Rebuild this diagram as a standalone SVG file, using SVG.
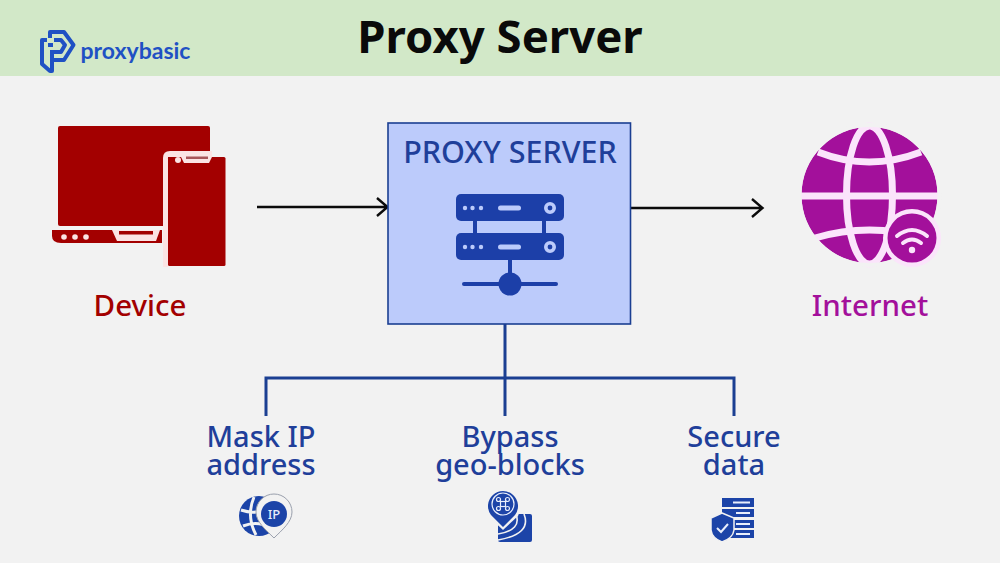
<svg xmlns="http://www.w3.org/2000/svg" width="1000" height="563" viewBox="0 0 1000 563">
<style>
text{font-family:"Noto Sans","Open Sans",sans-serif;text-anchor:middle;font-weight:500}
.lbl{font-size:29px;fill:#1f3f9a}
.red{fill:#a30000}
.mag{fill:#a3109b}
.srv{fill:#1c3fa8}
.lt{fill:#bccbfb}
.hl{fill:none;stroke:#fbe4fb;stroke-width:7}
.tree{fill:none;stroke:#1b3f92;stroke-width:3}
.blk{fill:none;stroke:#0b0b0b;stroke-width:2.4}
.ic{fill:#1c44a8}
</style>
<rect width="1000" height="563" fill="#f2f2f2"/>
<g id="header">
<rect width="1000" height="76" fill="#d2e8c8"/>
<text x="500" y="53" font-size="45.500" style="font-weight:700" fill="#0a0a0a">Proxy Server</text>
</g>
<g id="logo" fill="none" stroke="#1f51c4" stroke-width="4" stroke-linejoin="round">
<path d="M50 38V32H64L73.500 45L64 60H54"/>
<path d="M47 40H42V64L50 71H52V50"/>
<path d="M54 40H61L65 45L61 52H54"/>
<rect x="48" y="43" width="5" height="4" fill="#1f51c4" stroke="none"/>
<text x="135.500" y="59" font-size="23" fill="#1f51c4" stroke="none" style="font-family:Lato,'Noto Sans',sans-serif;font-weight:700">proxybasic</text>
</g>
<g id="connectors">
<path class="blk" d="M257 207H387M377 198L387.500 207L377 216"/>
<path class="blk" d="M631 208H762M752 199L762.500 208L752 217"/>
<path class="tree" d="M505 324V416M266 416V378H734V416"/>
</g>
<g id="device">
<rect x="58" y="126" width="152" height="100" rx="2" class="red"/>
<path d="M52 230H162V243H61Q52 243 52 236Z" class="red"/>
<path d="M112 230L117 241H156L160 230" fill="#fbe4e4"/>
<rect x="119" y="231" width="34" height="3.500" class="red"/>
<circle cx="64" cy="237" r="2.800" fill="#fbe4e4"/><circle cx="75" cy="237" r="2.800" fill="#fbe4e4"/><circle cx="86" cy="237" r="2.800" fill="#fbe4e4"/>
<path d="M163 267V158Q163 151 170 151H212V157H225.500V157H168V267Z" fill="#fbe4e4"/>
<rect x="168" y="157" width="57.500" height="109" rx="1.500" class="red"/>
<path d="M181 153H212V157L209 163H184L181 157Z" fill="#fbe4e4"/>
<circle cx="178" cy="160" r="3" fill="#fbe4e4"/>
<rect x="186" y="156.500" width="22" height="2.500" fill="#a8565a"/>
<text x="140" y="316" font-size="29.500" class="red">Device</text>
</g>
<g id="proxy">
<rect x="388" y="123" width="242.500" height="201" fill="#bccbfb" stroke="#1b3f92" stroke-width="1.600"/>
<text x="510" y="163" font-size="30.500" fill="#1f3f9a">PROXY SERVER</text>
<rect x="456" y="194" width="108" height="27" rx="5" class="srv"/>
<rect x="456" y="233" width="108" height="27" rx="5" class="srv"/>
<rect x="473" y="221" width="4" height="12" class="srv"/><rect x="542" y="221" width="4" height="12" class="srv"/>
<rect x="508" y="260" width="4" height="14" class="srv"/>
<rect x="462" y="282" width="96" height="4" rx="2" class="srv"/>
<circle cx="510" cy="284" r="11.500" class="srv"/>
<g class="lt">
<circle cx="465" cy="208" r="2.200"/><circle cx="472.500" cy="208" r="2.200"/><circle cx="481" cy="208" r="2.200"/><rect x="498" y="205.500" width="23" height="5" rx="2.500"/>
<circle cx="465" cy="247" r="2.200"/><circle cx="472.500" cy="247" r="2.200"/><circle cx="481" cy="247" r="2.200"/><rect x="498" y="244.500" width="23" height="5" rx="2.500"/>
</g>
<circle cx="550" cy="208" r="4.200" fill="none" stroke="#bccbfb" stroke-width="3.600"/>
<circle cx="550" cy="247" r="4.200" fill="none" stroke="#bccbfb" stroke-width="3.600"/>
</g>
<g id="internet">
<circle cx="869.500" cy="195" r="68" class="mag"/>
<ellipse cx="869.500" cy="195" rx="23" ry="69" class="hl"/>
<path class="hl" d="M800 196H939M818 152Q869 172 921 152M815 238Q869 222 925 238"/>
<circle cx="869.500" cy="195" r="70" fill="none" stroke="#f2f2f2" stroke-width="4"/>
<circle cx="912" cy="238" r="29" fill="#fbe4fb"/>
<circle cx="912" cy="238" r="24.500" class="mag"/>
<g fill="none" stroke="#fbe4fb" stroke-width="4" stroke-linecap="round">
<path d="M897 236Q912 224 927 236"/>
<path d="M903 243Q912 236 921 243"/>
</g>
<circle cx="912" cy="250" r="3.200" fill="#fbe4fb"/>
<text x="870" y="316" font-size="29.500" class="mag">Internet</text>
</g>
<g id="mask-ip">
<text class="lbl"><tspan x="261" y="447">Mask IP</tspan><tspan x="261" y="475">address</tspan></text>
<circle cx="259" cy="516" r="20" class="ic"/>
<path d="M254 497Q246 516 256 535M241 510Q258 516 272 506M243 526Q258 520 270 528" fill="none" stroke="#f2f2f2" stroke-width="3"/>
<path d="M274 538C266 530 256 522 256 512A18 18 0 0 1 292 512C292 522 282 530 274 538Z" fill="#f2f2f2" stroke="#9aa0ad" stroke-width="1"/>
<circle cx="274" cy="514" r="13" class="ic"/>
<text x="274" y="519" font-size="13" fill="#e8eefc">IP</text>
</g>
<g id="bypass">
<text class="lbl"><tspan x="510" y="447">Bypass</tspan><tspan x="510" y="475">geo-blocks</tspan></text>
<rect x="498" y="514" width="34" height="28" rx="2" class="ic"/>
<path d="M516 514Q522 530 498 534M524 514Q532 534 498 540" fill="none" stroke="#f2f2f2" stroke-width="1.600"/>
<path d="M503 530L488 516A17 17 0 1 1 518 516Z" fill="#f2f2f2"/>
<path d="M503 527L491 515A15 15 0 1 1 515 515Z" class="ic"/>
<circle cx="503" cy="504" r="11" fill="none" stroke="#e8eefc" stroke-width="1.200"/>
<g fill="none" stroke="#e8eefc" stroke-width="1.200"><rect x="500.500" y="501.500" width="5" height="5"/><circle cx="498.500" cy="499.500" r="2"/><circle cx="507.500" cy="499.500" r="2"/><circle cx="498.500" cy="508.500" r="2"/><circle cx="507.500" cy="508.500" r="2"/></g>
</g>
<g id="secure">
<text class="lbl"><tspan x="734" y="447">Secure</tspan><tspan x="734" y="475">data</tspan></text>
<rect x="722" y="498" width="32" height="9" class="ic"/>
<rect x="722" y="509" width="32" height="8" class="ic"/>
<rect x="722" y="520" width="32" height="8" class="ic"/>
<rect x="722" y="530" width="32" height="8" class="ic"/>
<g fill="#e8eefc"><rect x="733" y="501.500" width="17" height="2"/><rect x="736" y="512" width="14" height="2"/><rect x="736" y="523" width="14" height="2"/><rect x="736" y="533" width="14" height="2"/></g>
<path d="M722 513L734 518V530Q733 538 722 542Q712 538 711 530V518Z" class="ic" stroke="#f2f2f2" stroke-width="1.500"/>
<path d="M717 528L721 532L728 524" fill="none" stroke="#e8eefc" stroke-width="2"/>
</g>
</svg>
